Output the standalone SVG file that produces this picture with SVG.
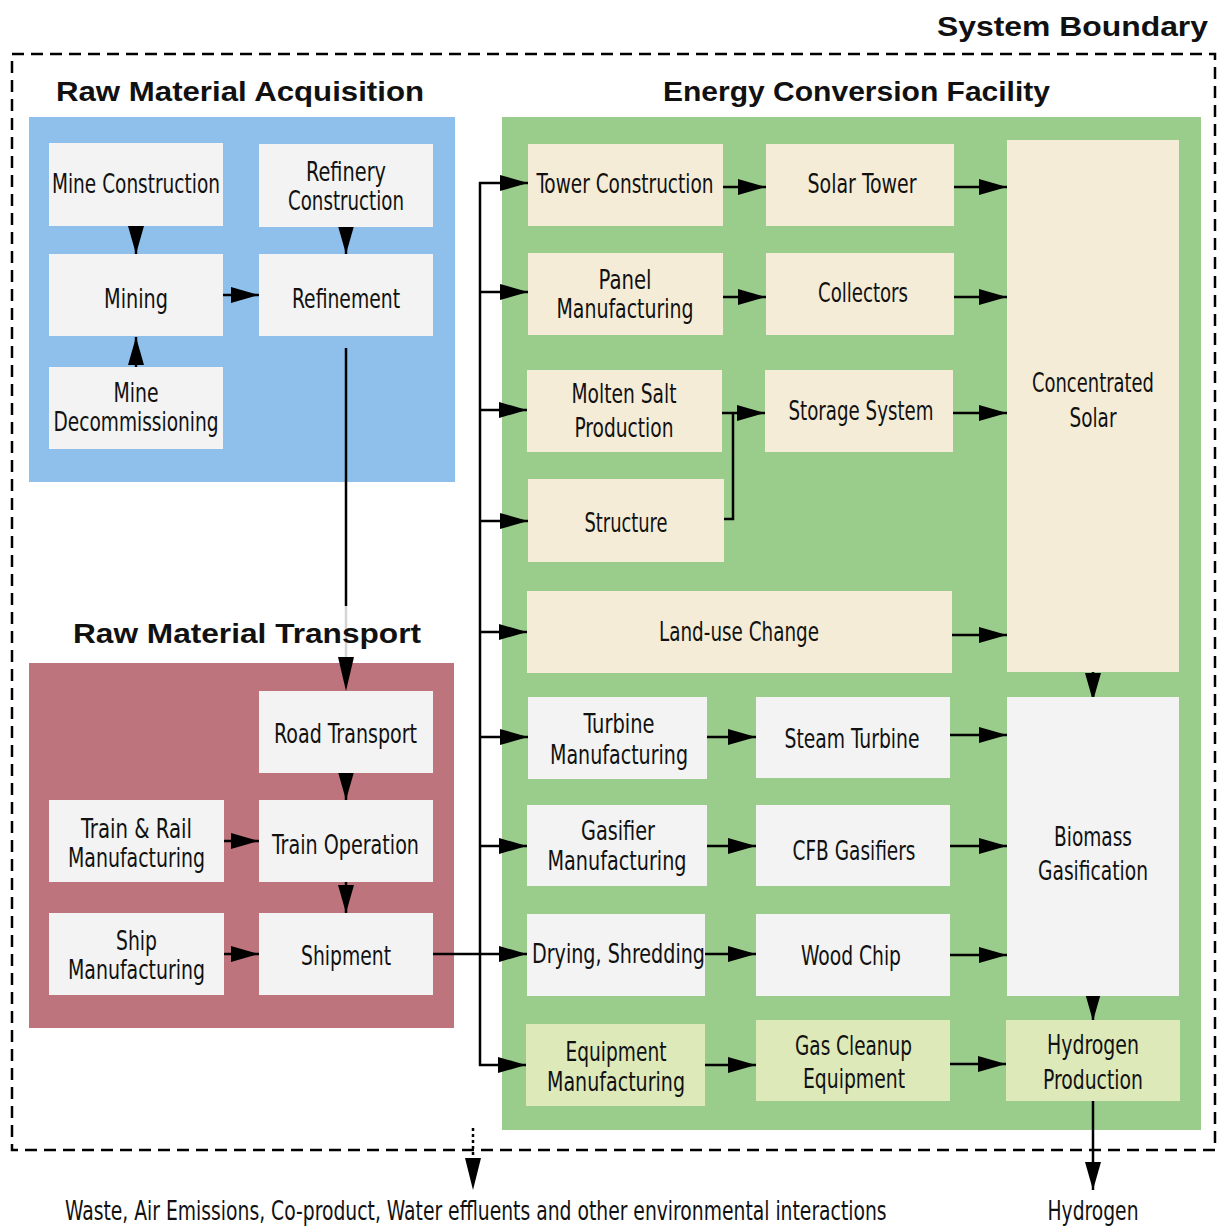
<svg xmlns="http://www.w3.org/2000/svg" width="1217" height="1226" viewBox="0 0 1217 1226">
<defs>
<style>
.lbl{font-family:"Liberation Sans Narrow","DejaVu Sans Condensed","Liberation Sans",sans-serif;font-stretch:condensed;font-size:27px;fill:#111;text-anchor:middle}
.plain{font-family:"Liberation Sans Narrow","DejaVu Sans Condensed","Liberation Sans",sans-serif;font-stretch:condensed;font-size:27px;fill:#111}
.title{font-family:"Liberation Sans","DejaVu Sans",sans-serif;font-weight:bold;font-size:28px;fill:#111}
.gray{fill:#f2f3f2}
.cream{fill:#f5ecd7}
.lime{fill:#dde9b9}
.conn{stroke:#000;stroke-width:2.5;fill:none}
</style>
<marker id="ah" markerUnits="userSpaceOnUse" markerWidth="28" markerHeight="16" refX="28" refY="8" orient="auto" viewBox="0 0 28 16">
<path d="M0,0 L28,8 L0,16 Z" fill="#000"/>
</marker>
</defs>
<rect width="1217" height="1226" fill="#fff"/>

<g id="system-boundary">
<rect x="12" y="54" width="1203" height="1096" fill="none" stroke="#000" stroke-width="2.5" stroke-dasharray="12,7"/>
<text class="title" x="937" y="36" textLength="271" lengthAdjust="spacingAndGlyphs">System Boundary</text>
</g>

<g id="raw-material-acquisition">
<text class="title" x="56" y="101" textLength="368" lengthAdjust="spacingAndGlyphs">Raw Material Acquisition</text>
<rect x="29" y="117" width="426" height="365" fill="#8fc0eb"/>
</g>

<g id="energy-conversion-facility">
<text class="title" x="663" y="101" textLength="387" lengthAdjust="spacingAndGlyphs">Energy Conversion Facility</text>
<rect x="502" y="117" width="699" height="1013" fill="#9acc8c"/>
</g>

<g id="raw-material-transport">
<rect x="29" y="663" width="425" height="365" fill="#bd747d"/>
</g>

<g id="connectors">
<line class="conn" x1="136" y1="226" x2="136" y2="254" marker-end="url(#ah)"/>
<line class="conn" x1="346" y1="227" x2="346" y2="254" marker-end="url(#ah)"/>
<line class="conn" x1="223" y1="295" x2="259" y2="295" marker-end="url(#ah)"/>
<line class="conn" x1="136" y1="367" x2="136" y2="337" marker-end="url(#ah)"/>
<line class="conn" x1="346" y1="348" x2="346" y2="606"/>
<line x1="346" y1="606" x2="346" y2="664" stroke="#d4d4d4" stroke-width="2.5"/>
<path d="M338,657 L346,691 L354,657 Z" fill="#000"/>
<line class="conn" x1="346" y1="773" x2="346" y2="800" marker-end="url(#ah)"/>
<line class="conn" x1="346" y1="882" x2="346" y2="913" marker-end="url(#ah)"/>
<line class="conn" x1="224" y1="841" x2="259" y2="841" marker-end="url(#ah)"/>
<line class="conn" x1="224" y1="954" x2="259" y2="954" marker-end="url(#ah)"/>
<line class="conn" x1="433" y1="954" x2="527" y2="954" marker-end="url(#ah)"/>
<line class="conn" x1="480" y1="182" x2="480" y2="1066"/>
<line class="conn" x1="479" y1="183" x2="528" y2="183" marker-end="url(#ah)"/>
<line class="conn" x1="479" y1="292" x2="528" y2="292" marker-end="url(#ah)"/>
<line class="conn" x1="479" y1="410" x2="527" y2="410" marker-end="url(#ah)"/>
<line class="conn" x1="479" y1="521" x2="528" y2="521" marker-end="url(#ah)"/>
<line class="conn" x1="479" y1="632" x2="527" y2="632" marker-end="url(#ah)"/>
<line class="conn" x1="479" y1="737" x2="528" y2="737" marker-end="url(#ah)"/>
<line class="conn" x1="479" y1="846" x2="527" y2="846" marker-end="url(#ah)"/>
<line class="conn" x1="479" y1="1065" x2="526" y2="1065" marker-end="url(#ah)"/>
<line class="conn" x1="723" y1="187" x2="766" y2="187" marker-end="url(#ah)"/>
<line class="conn" x1="723" y1="297" x2="766" y2="297" marker-end="url(#ah)"/>
<line class="conn" x1="722" y1="413" x2="765" y2="413" marker-end="url(#ah)"/>
<polyline class="conn" points="724,519 733,519 733,413"/>
<line class="conn" x1="953" y1="187" x2="1007" y2="187" marker-end="url(#ah)"/>
<line class="conn" x1="954" y1="297" x2="1007" y2="297" marker-end="url(#ah)"/>
<line class="conn" x1="953" y1="413" x2="1007" y2="413" marker-end="url(#ah)"/>
<line class="conn" x1="952" y1="635" x2="1007" y2="635" marker-end="url(#ah)"/>
<line class="conn" x1="707" y1="737" x2="756" y2="737" marker-end="url(#ah)"/>
<line class="conn" x1="950" y1="735" x2="1007" y2="735" marker-end="url(#ah)"/>
<line class="conn" x1="707" y1="846" x2="756" y2="846" marker-end="url(#ah)"/>
<line class="conn" x1="950" y1="846" x2="1007" y2="846" marker-end="url(#ah)"/>
<line class="conn" x1="705" y1="954" x2="756" y2="954" marker-end="url(#ah)"/>
<line class="conn" x1="950" y1="955" x2="1007" y2="955" marker-end="url(#ah)"/>
<line class="conn" x1="705" y1="1065" x2="756" y2="1065" marker-end="url(#ah)"/>
<line class="conn" x1="950" y1="1064" x2="1006" y2="1064" marker-end="url(#ah)"/>
<line class="conn" x1="1093" y1="672" x2="1093" y2="701" marker-end="url(#ah)"/>
<line class="conn" x1="1093" y1="990" x2="1093" y2="1021" marker-end="url(#ah)"/>
<line class="conn" x1="1093" y1="1101" x2="1093" y2="1190" marker-end="url(#ah)"/>
<line x1="473" y1="1128" x2="473" y2="1160" stroke="#000" stroke-width="2.5" stroke-dasharray="3,3"/>
<path d="M465,1158 L473,1190 L481,1158 Z" fill="#000"/>
</g>

<g id="title-transport">
<text class="title" x="73" y="643" textLength="348" lengthAdjust="spacingAndGlyphs">Raw Material Transport</text>
</g>

<g id="mine-construction"><rect class="gray" x="49" y="143" width="174" height="83"/><text class="lbl" x="136" y="193" textLength="168" lengthAdjust="spacingAndGlyphs">Mine Construction</text></g>
<g id="refinery-construction"><rect class="gray" x="259" y="144" width="174" height="83"/><text class="lbl" x="346" y="181" textLength="80" lengthAdjust="spacingAndGlyphs">Refinery</text><text class="lbl" x="346" y="210" textLength="116" lengthAdjust="spacingAndGlyphs">Construction</text></g>
<g id="mining"><rect class="gray" x="49" y="254" width="174" height="82"/><text class="lbl" x="136" y="308" textLength="64" lengthAdjust="spacingAndGlyphs">Mining</text></g>
<g id="refinement"><rect class="gray" x="259" y="254" width="174" height="82"/><text class="lbl" x="346" y="308" textLength="108" lengthAdjust="spacingAndGlyphs">Refinement</text></g>
<g id="mine-decommissioning"><rect class="gray" x="49" y="367" width="174" height="82"/><text class="lbl" x="136" y="402" textLength="45" lengthAdjust="spacingAndGlyphs">Mine</text><text class="lbl" x="136" y="431" textLength="165" lengthAdjust="spacingAndGlyphs">Decommissioning</text></g>

<g id="road-transport"><rect class="gray" x="259" y="691" width="174" height="82"/><text class="lbl" x="345.5" y="743" textLength="143" lengthAdjust="spacingAndGlyphs">Road Transport</text></g>
<g id="train-rail-manufacturing"><rect class="gray" x="49" y="800" width="175" height="82"/><text class="lbl" x="136.5" y="838" textLength="111" lengthAdjust="spacingAndGlyphs">Train &amp; Rail</text><text class="lbl" x="136.5" y="867" textLength="137" lengthAdjust="spacingAndGlyphs">Manufacturing</text></g>
<g id="train-operation"><rect class="gray" x="259" y="800" width="174" height="82"/><text class="lbl" x="345.5" y="854" textLength="147" lengthAdjust="spacingAndGlyphs">Train Operation</text></g>
<g id="ship-manufacturing"><rect class="gray" x="49" y="913" width="175" height="82"/><text class="lbl" x="136.5" y="950" textLength="41" lengthAdjust="spacingAndGlyphs">Ship</text><text class="lbl" x="136.5" y="979" textLength="137" lengthAdjust="spacingAndGlyphs">Manufacturing</text></g>
<g id="shipment"><rect class="gray" x="259" y="913" width="174" height="82"/><text class="lbl" x="346" y="965" textLength="90" lengthAdjust="spacingAndGlyphs">Shipment</text></g>

<g id="tower-construction"><rect class="cream" x="528" y="144" width="195" height="82"/><text class="lbl" x="625" y="193" textLength="177" lengthAdjust="spacingAndGlyphs">Tower Construction</text></g>
<g id="solar-tower"><rect class="cream" x="766" y="144" width="188" height="82"/><text class="lbl" x="862" y="193" textLength="109" lengthAdjust="spacingAndGlyphs">Solar Tower</text></g>
<g id="panel-manufacturing"><rect class="cream" x="528" y="253" width="195" height="82"/><text class="lbl" x="625" y="289" textLength="53" lengthAdjust="spacingAndGlyphs">Panel</text><text class="lbl" x="625" y="318" textLength="137" lengthAdjust="spacingAndGlyphs">Manufacturing</text></g>
<g id="collectors"><rect class="cream" x="766" y="253" width="188" height="82"/><text class="lbl" x="863" y="302" textLength="90" lengthAdjust="spacingAndGlyphs">Collectors</text></g>
<g id="molten-salt-production"><rect class="cream" x="527" y="370" width="195" height="82"/><text class="lbl" x="624" y="403" textLength="105" lengthAdjust="spacingAndGlyphs">Molten Salt</text><text class="lbl" x="624" y="437" textLength="99" lengthAdjust="spacingAndGlyphs">Production</text></g>
<g id="storage-system"><rect class="cream" x="765" y="370" width="188" height="82"/><text class="lbl" x="861" y="420" textLength="145" lengthAdjust="spacingAndGlyphs">Storage System</text></g>
<g id="structure"><rect class="cream" x="528" y="479" width="196" height="83"/><text class="lbl" x="626" y="532" textLength="83" lengthAdjust="spacingAndGlyphs">Structure</text></g>
<g id="land-use-change"><rect class="cream" x="527" y="591" width="425" height="82"/><text class="lbl" x="739" y="641" textLength="160" lengthAdjust="spacingAndGlyphs">Land-use Change</text></g>
<g id="concentrated-solar"><rect class="cream" x="1007" y="140" width="172" height="532"/><text class="lbl" x="1093" y="392" textLength="122" lengthAdjust="spacingAndGlyphs">Concentrated</text><text class="lbl" x="1093" y="427" textLength="47" lengthAdjust="spacingAndGlyphs">Solar</text></g>

<g id="turbine-manufacturing"><rect class="gray" x="528" y="697" width="179" height="82"/><text class="lbl" x="619" y="733" textLength="71" lengthAdjust="spacingAndGlyphs">Turbine</text><text class="lbl" x="619" y="764" textLength="138" lengthAdjust="spacingAndGlyphs">Manufacturing</text></g>
<g id="steam-turbine"><rect class="gray" x="756" y="697" width="194" height="81"/><text class="lbl" x="852" y="748" textLength="135" lengthAdjust="spacingAndGlyphs">Steam Turbine</text></g>
<g id="gasifier-manufacturing"><rect class="gray" x="527" y="805" width="180" height="81"/><text class="lbl" x="618" y="840" textLength="74" lengthAdjust="spacingAndGlyphs">Gasifier</text><text class="lbl" x="617" y="870" textLength="139" lengthAdjust="spacingAndGlyphs">Manufacturing</text></g>
<g id="cfb-gasifiers"><rect class="gray" x="756" y="805" width="194" height="81"/><text class="lbl" x="854" y="860" textLength="123" lengthAdjust="spacingAndGlyphs">CFB Gasifiers</text></g>
<g id="drying-shredding"><rect class="gray" x="527" y="914" width="178" height="82"/><text class="lbl" x="618.5" y="963" textLength="173" lengthAdjust="spacingAndGlyphs">Drying, Shredding</text></g>
<g id="wood-chip"><rect class="gray" x="756" y="914" width="194" height="82"/><text class="lbl" x="851" y="965" textLength="100" lengthAdjust="spacingAndGlyphs">Wood Chip</text></g>
<g id="biomass-gasification"><rect class="gray" x="1007" y="697" width="172" height="299"/><text class="lbl" x="1093" y="846" textLength="78" lengthAdjust="spacingAndGlyphs">Biomass</text><text class="lbl" x="1093" y="880" textLength="110" lengthAdjust="spacingAndGlyphs">Gasification</text></g>

<g id="equipment-manufacturing"><rect class="lime" x="526" y="1024" width="179" height="82"/><text class="lbl" x="616" y="1061" textLength="101" lengthAdjust="spacingAndGlyphs">Equipment</text><text class="lbl" x="616" y="1091" textLength="138" lengthAdjust="spacingAndGlyphs">Manufacturing</text></g>
<g id="gas-cleanup-equipment"><rect class="lime" x="756" y="1020" width="194" height="81"/><text class="lbl" x="853.5" y="1055" textLength="117" lengthAdjust="spacingAndGlyphs">Gas Cleanup</text><text class="lbl" x="854" y="1088" textLength="102" lengthAdjust="spacingAndGlyphs">Equipment</text></g>
<g id="hydrogen-production"><rect class="lime" x="1006" y="1020" width="174" height="81"/><text class="lbl" x="1093" y="1054" textLength="92" lengthAdjust="spacingAndGlyphs">Hydrogen</text><text class="lbl" x="1093" y="1089" textLength="100" lengthAdjust="spacingAndGlyphs">Production</text></g>

<g id="outputs">
<text class="plain" transform="translate(65,1220) scale(0.8,1)" x="0" y="0" textLength="1027" lengthAdjust="spacingAndGlyphs">Waste, Air Emissions, Co-product, Water effluents and other environmental interactions</text>
<text class="lbl" x="1093" y="1220" textLength="91" lengthAdjust="spacingAndGlyphs">Hydrogen</text>
</g>
</svg>
